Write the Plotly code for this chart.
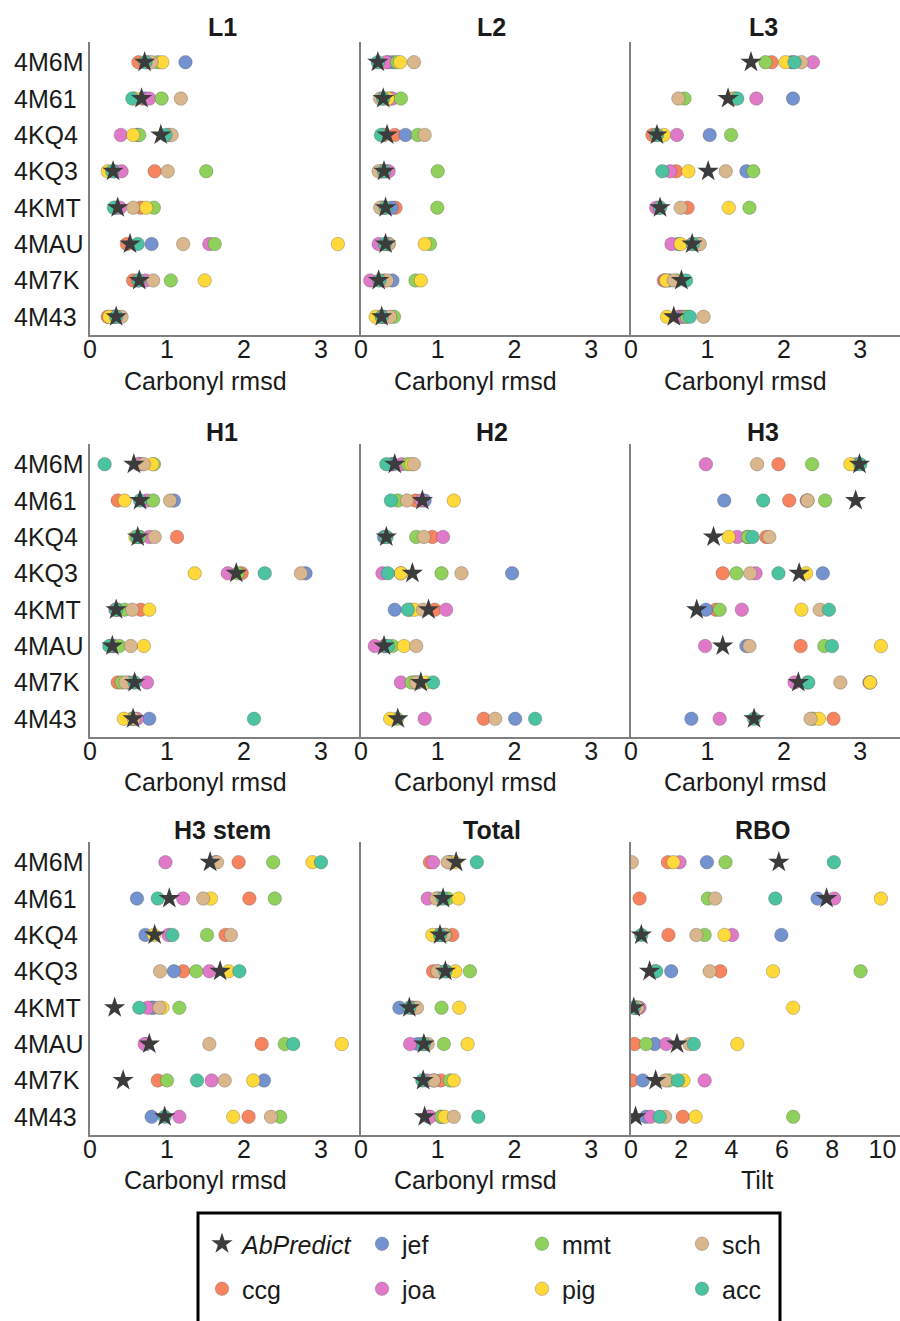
import plotly.graph_objects as go

# ---------------- data ----------------
categories = ["4M6M", "4M61", "4KQ4", "4KQ3", "4KMT", "4MAU", "4M7K", "4M43"]
methods = ["ccg", "jef", "joa", "mmt", "pig", "sch", "acc"]          # draw order
panel_names = ["L1", "L2", "L3", "H1", "H2", "H3", "H3 stem", "Total", "RBO"]
x_titles = ["Carbonyl rmsd"] * 8 + ["Tilt"]
rmsd_ticks = [0, 1, 2, 3]
tilt_ticks = [0, 2, 4, 6, 8, 10]

L1 = {
    "AbPredict": [0.71, 0.67, 0.92, 0.30, 0.36, 0.52, 0.64, 0.34],
    "ccg": [0.63, 0.68, 1.02, 0.84, 0.66, 0.48, 0.56, 0.23],
    "jef": [1.24, 0.72, 0.62, 0.32, 0.34, 0.80, 0.63, 0.30],
    "joa": [0.75, 0.77, 0.40, 0.41, 0.39, 1.55, 0.72, 0.31],
    "mmt": [0.88, 0.93, 0.64, 1.51, 0.83, 1.62, 1.05, 0.35],
    "pig": [0.94, 0.58, 0.56, 0.23, 0.73, 3.22, 1.49, 0.25],
    "sch": [0.80, 1.18, 1.06, 1.01, 0.56, 1.21, 0.82, 0.41],
    "acc": [0.72, 0.55, 0.98, 0.29, 0.31, 0.62, 0.63, 0.34],
}
L2 = {
    "AbPredict": [0.22, 0.29, 0.34, 0.30, 0.32, 0.32, 0.23, 0.27],
    "ccg": [0.36, 0.30, 0.44, 0.28, 0.45, 0.33, 0.30, 0.25],
    "jef": [0.42, 0.38, 0.58, 0.32, 0.40, 0.36, 0.41, 0.30],
    "joa": [0.33, 0.41, 0.30, 0.36, 0.30, 0.23, 0.12, 0.28],
    "mmt": [0.47, 0.52, 0.74, 1.00, 0.995, 0.90, 0.71, 0.43],
    "pig": [0.51, 0.35, 0.29, 0.27, 0.27, 0.83, 0.78, 0.19],
    "sch": [0.69, 0.25, 0.83, 0.23, 0.25, 0.36, 0.34, 0.38],
    "acc": [0.22, 0.29, 0.26, 0.30, 0.32, 0.31, 0.24, 0.27],
}
L3 = {
    "AbPredict": [1.57, 1.27, 0.34, 1.01, 0.38, 0.80, 0.66, 0.56],
    "ccg": [1.84, 1.34, 0.28, 0.59, 0.74, 0.80, 0.43, 0.62],
    "jef": [2.10, 2.12, 1.03, 1.51, 0.37, 0.62, 0.50, 0.66],
    "joa": [2.38, 1.64, 0.60, 0.51, 0.33, 0.53, 0.45, 0.69],
    "mmt": [1.76, 0.70, 1.31, 1.60, 1.55, 0.88, 0.60, 0.73],
    "pig": [2.02, 1.36, 0.43, 0.75, 1.28, 0.65, 0.46, 0.47],
    "sch": [2.23, 0.62, 0.33, 1.24, 0.65, 0.90, 0.56, 0.95],
    "acc": [2.14, 1.39, 0.34, 0.41, 0.38, 0.81, 0.72, 0.77],
}
H1 = {
    "AbPredict": [0.57, 0.65, 0.62, 1.90, 0.34, 0.29, 0.58, 0.56],
    "ccg": [0.63, 0.36, 1.13, 1.97, 0.66, 0.30, 0.36, 0.55],
    "jef": [0.66, 1.09, 0.65, 2.80, 0.36, 0.31, 0.50, 0.77],
    "joa": [0.64, 0.74, 0.77, 1.79, 0.33, 0.27, 0.74, 0.61],
    "mmt": [0.83, 0.82, 0.64, 1.92, 0.45, 0.38, 0.41, 0.55],
    "pig": [0.81, 0.45, 0.59, 1.36, 0.77, 0.70, 0.57, 0.44],
    "sch": [0.70, 1.04, 0.84, 2.74, 0.55, 0.53, 0.46, 0.57],
    "acc": [0.19, 0.65, 0.61, 2.27, 0.34, 0.25, 0.58, 2.13],
}
H2 = {
    "AbPredict": [0.44, 0.80, 0.33, 0.67, 0.88, 0.30, 0.78, 0.48],
    "ccg": [0.40, 0.71, 0.93, 0.52, 0.96, 0.30, 0.70, 1.60],
    "jef": [0.42, 0.83, 0.30, 1.97, 0.44, 0.32, 0.74, 2.01],
    "joa": [0.53, 0.79, 1.07, 0.28, 1.11, 0.18, 0.52, 0.83],
    "mmt": [0.61, 0.48, 0.72, 1.05, 0.64, 0.41, 0.66, 0.47],
    "pig": [0.66, 1.21, 0.33, 0.52, 0.70, 0.56, 0.85, 0.38],
    "sch": [0.69, 0.60, 0.82, 1.31, 0.81, 0.72, 0.72, 1.75],
    "acc": [0.33, 0.39, 0.33, 0.35, 0.61, 0.35, 0.94, 2.27],
}
H3 = {
    "AbPredict": [2.99, 2.94, 1.08, 2.20, 0.86, 1.20, 2.19, 1.61],
    "ccg": [1.93, 2.07, 1.77, 1.20, 1.11, 2.22, 3.12, 2.65],
    "jef": [2.95, 1.22, 1.52, 2.51, 0.98, 1.51, 3.13, 0.79],
    "joa": [0.98, 2.30, 1.39, 1.63, 1.45, 0.97, 2.14, 1.16],
    "mmt": [2.37, 2.54, 1.53, 1.38, 1.16, 2.53, 2.31, 2.38],
    "pig": [2.87, 2.31, 1.28, 2.29, 2.23, 3.27, 3.13, 2.46],
    "sch": [1.65, 2.31, 1.81, 1.56, 2.47, 1.55, 2.74, 2.35],
    "acc": [3.00, 1.73, 1.59, 1.93, 2.59, 2.63, 2.32, 1.61],
}
H3_stem = {
    "AbPredict": [1.56, 1.03, 0.84, 1.69, 0.32, 0.77, 0.43, 0.97],
    "ccg": [1.93, 2.07, 1.76, 1.21, 0.80, 2.23, 0.88, 2.06],
    "jef": [1.63, 0.61, 0.72, 1.09, 0.83, 0.73, 2.26, 0.80],
    "joa": [0.98, 1.21, 1.02, 1.55, 0.75, 0.71, 1.58, 1.16],
    "mmt": [2.38, 2.40, 1.52, 1.38, 1.16, 2.53, 1.00, 2.47],
    "pig": [2.89, 1.57, 0.83, 1.80, 0.94, 3.27, 2.12, 1.86],
    "sch": [1.65, 1.47, 1.83, 0.91, 0.90, 1.55, 1.75, 2.35],
    "acc": [3.00, 0.88, 1.07, 1.94, 0.64, 2.64, 1.39, 0.97],
}
Total = {
    "AbPredict": [1.24, 1.07, 1.03, 1.10, 0.63, 0.82, 0.81, 0.83],
    "ccg": [0.90, 1.03, 1.19, 0.94, 0.68, 0.80, 1.04, 1.04],
    "jef": [1.16, 1.00, 1.00, 1.11, 0.50, 0.74, 0.95, 0.88],
    "joa": [0.94, 0.87, 1.05, 1.00, 0.66, 0.64, 0.86, 0.90],
    "mmt": [1.16, 1.13, 1.10, 1.42, 1.05, 1.08, 1.16, 1.05],
    "pig": [1.22, 1.27, 0.93, 1.23, 1.28, 1.39, 1.21, 1.09],
    "sch": [1.13, 0.98, 1.09, 0.995, 0.73, 0.87, 0.95, 1.21],
    "acc": [1.51, 1.07, 1.03, 1.10, 0.63, 0.82, 0.80, 1.53],
}
RBO = {
    "AbPredict": [5.88, 7.78, 0.41, 0.74, 0.11, 1.83, 0.98, 0.18],
    "ccg": [1.47, 0.34, 1.49, 3.55, 0.20, 0.14, 0.03, 2.06],
    "jef": [3.02, 7.42, 5.98, 1.60, 0.22, 0.94, 0.47, 0.60],
    "joa": [1.93, 8.08, 4.02, 0.95, 0.34, 1.40, 2.93, 0.78],
    "mmt": [3.76, 3.06, 2.93, 9.13, 0.26, 0.60, 1.51, 6.45],
    "pig": [1.69, 9.94, 3.72, 5.65, 6.45, 4.23, 2.09, 2.57],
    "sch": [0.03, 3.35, 2.60, 3.13, 0.25, 2.33, 1.37, 1.36],
    "acc": [8.07, 5.74, 0.41, 1.00, 0.11, 2.50, 1.87, 1.14],
}
panels = [L1, L2, L3, H1, H2, H3, H3_stem, Total, RBO]

# ---------------- style ----------------
colors = {
    "ccg": "#f7845e", "jef": "#7592d0", "joa": "#e07ac8", "mmt": "#8fd15a",
    "pig": "#ffd83a", "sch": "#d9b68c", "acc": "#4cc3a0",
}
star_color = "#3c3c3c"
FONT = "Liberation Sans, Arial, sans-serif"
TXT = "#1a1a1a"
AX = "#808080"
W, H = 900, 1321


def px(x):
    return x / W


def py(y):
    return 1 - y / H


col_edges = [(90, 361), (361, 631), (631, 900)]
row_edges = [(42, 335), (444, 737), (842, 1135)]
title_y = [27, 432, 830]
axtitle_y = [381, 782, 1180]
title_x = [222, 492, 763]
axtitle_x = [205, 476, 745]

# legend layout: row 1 -> legend, row 2 -> legend2
legend_of = {"AbPredict": "legend", "jef": "legend", "mmt": "legend", "sch": "legend",
             "ccg": "legend2", "joa": "legend2", "pig": "legend2", "acc": "legend2"}
rank_of = {"AbPredict": 1, "jef": 2, "mmt": 3, "sch": 4,
           "ccg": 1, "joa": 2, "pig": 3, "acc": 4}

fig = go.Figure()
layout = {}
annotations = []

for i, (name, data) in enumerate(zip(panel_names, panels)):
    r, c = divmod(i, 3)
    k = i + 1
    xa = "x" if k == 1 else f"x{k}"
    ya = "y" if k == 1 else f"y{k}"
    is_tilt = name == "RBO"
    for m in methods:
        fig.add_trace(go.Scatter(
            x=data[m], y=categories, mode="markers", xaxis=xa, yaxis=ya,
            name=m, legendgroup=m, showlegend=(i == 0),
            legend=legend_of[m], legendrank=rank_of[m],
            marker=dict(symbol="circle", size=13.5, color=colors[m],
                        line=dict(width=0.6, color="rgba(70,70,70,0.5)")),
            hoverinfo="x+y+name",
        ))
    fig.add_trace(go.Scatter(
        x=data["AbPredict"], y=categories, mode="markers", xaxis=xa, yaxis=ya,
        name="<i>AbPredict</i>", legendgroup="AbPredict", showlegend=(i == 0),
        legend=legend_of["AbPredict"], legendrank=rank_of["AbPredict"],
        marker=dict(symbol="star", size=16, color=star_color, line=dict(width=0)),
        hoverinfo="x+y+name",
    ))

    x0, x1 = col_edges[c]
    y0, y1 = row_edges[r]
    layout["xaxis" if k == 1 else f"xaxis{k}"] = dict(
        domain=[px(x0), px(x1)], anchor=ya, automargin=False,
        range=[0, 10.7] if is_tilt else [0, 3.52],
        tickvals=tilt_ticks if is_tilt else rmsd_ticks,
        showline=True, linecolor=AX, linewidth=2, showgrid=False, zeroline=False,
        ticks="", ticklabelstandoff=-9,
        tickfont=dict(size=25, family=FONT, color=TXT), fixedrange=True,
    )
    layout["yaxis" if k == 1 else f"yaxis{k}"] = dict(
        domain=[py(y1), py(y0)], anchor=xa, type="category", automargin=False,
        categoryorder="array", categoryarray=categories,
        range=[7.5, -0.555], showline=True, linecolor=AX, linewidth=2,
        showgrid=False, zeroline=False, ticks="", showticklabels=False, fixedrange=True,
    )
    annotations.append(dict(
        text=f"<b>{name}</b>", x=px(title_x[c]), y=py(title_y[r]), xref="paper", yref="paper",
        xanchor="center", yanchor="middle", showarrow=False,
        font=dict(size=25, family=FONT, color=TXT)))
    annotations.append(dict(
        text=x_titles[i], x=px(axtitle_x[c] if not is_tilt else 757), y=py(axtitle_y[r]),
        xref="paper", yref="paper", xanchor="center", yanchor="middle", showarrow=False,
        font=dict(size=25, family=FONT, color=TXT)))
    if c == 0:
        for cat in categories:
            annotations.append(dict(
                text=cat, x=px(12), y=cat, xref="paper", yref=ya,
                xanchor="left", yanchor="middle", showarrow=False,
                font=dict(size=25, family=FONT, color=TXT)))

leg_common = dict(orientation="h", xanchor="left", yanchor="top",
                  font=dict(size=25, family=FONT, color=TXT),
                  bgcolor="rgba(0,0,0,0)", borderwidth=0,
                  entrywidth=115, entrywidthmode="pixels", traceorder="normal")

fig.update_layout(
    template="none",
    width=W, height=H, margin=dict(l=0, r=0, t=0, b=0, pad=0, autoexpand=False),
    paper_bgcolor="white", plot_bgcolor="white",
    font=dict(family=FONT, color=TXT),
    annotations=annotations,
    legend=dict(x=px(202), y=py(1221), **leg_common),
    legend2=dict(x=px(202), y=py(1266), **leg_common),
    shapes=[dict(type="rect", xref="paper", yref="paper",
                 x0=px(198), x1=px(780), y0=py(1330), y1=py(1213),
                 line=dict(color="black", width=3), fillcolor="rgba(0,0,0,0)", layer="below")],
    **layout,
)

fig.write_html("out.html", config={"displayModeBar": False},
               post_script="document.body.style.margin='0';document.body.style.overflow='hidden';")
